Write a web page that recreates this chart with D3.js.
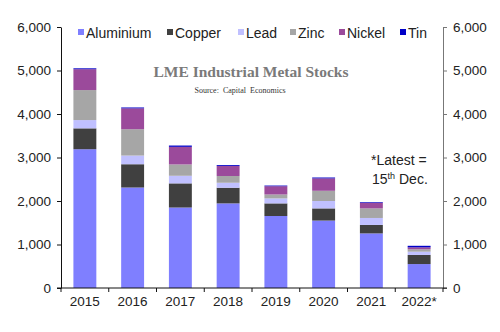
<!DOCTYPE html>
<html>
<head>
<meta charset="utf-8">
<script src="https://cdn.jsdelivr.net/npm/d3@7"></script>
<style>
  body { margin: 0; background: #fff; }
  svg { display: block; font-family: "Liberation Sans", Arial, sans-serif; }
</style>
</head>
<body>
<div id="chart"></div>
<script>
// LME stocks by metal, thousand tonnes (stacked)
const years = ["2015", "2016", "2017", "2018", "2019", "2020", "2021", "2022*"]
const metals = ["Aluminium", "Copper", "Lead", "Zinc", "Nickel", "Tin"]
const aluminium = [3190, 2310, 1850, 1945, 1655, 1550, 1255, 550]
const copper    = [480, 535, 555, 360, 290, 280, 195, 210]
const lead      = [190, 200, 175, 115, 115, 170, 160, 75]
const zinc      = [690, 605, 260, 155, 90, 235, 220, 55]
const nickel    = [480, 480, 405, 230, 190, 285, 130, 45]
const tin       = [20, 20, 30, 20, 15, 20, 15, 35]
const yTicks = [0, 1000, 2000, 3000, 4000, 5000, 6000]
const colours = ["#7f7fff", "#404040", "#c0c0ff", "#a6a6a6", "#9b4a9b", "#0000c8"]

const W = 500, H = 332
const margin = {top: 27, right: 57, bottom: 44, left: 61}

const rows = years.map((y, i) => ({
    year: y,
    Aluminium: aluminium[i], Copper: copper[i], Lead: lead[i],
    Zinc: zinc[i], Nickel: nickel[i], Tin: tin[i]
}))
const stacked = d3.stack().keys(metals)(rows)

const svg = d3.select('#chart').append('svg')
    .attr('width', W)
    .attr('height', H)

const x = d3.scaleBand()
    .domain(years)
    .range([margin.left, W - margin.right])
    .paddingInner(0.52)
    .paddingOuter(0.26)

const y = d3.scaleLinear()
    .domain([0, 6000])
    .range([H - margin.bottom, margin.top])

const colour = d3.scaleOrdinal().domain(metals).range(colours)
const fmt = d3.format(",")

// bars
svg.append('g')
    .selectAll('g')
    .data(stacked)
    .join('g')
        .attr('fill', d => colour(d.key))
    .selectAll('rect')
    .data(d => d)
    .join('rect')
        .attr('x', d => x(d.data.year))
        .attr('width', x.bandwidth())
        .attr('y', d => y(d[1]))
        .attr('height', d => y(d[0]) - y(d[1]))

// left axis
const leftAxis = svg.append('g')
    .attr('transform', `translate(${margin.left},0)`)
    .call(d3.axisLeft(y).tickValues(yTicks).tickFormat(fmt).tickSize(4).tickSizeOuter(0).tickPadding(6))
leftAxis.select('.domain').attr('stroke', '#111')
leftAxis.selectAll('.tick line').attr('stroke', '#111')
leftAxis.selectAll('text').attr('font-size', 13.5).attr('fill', '#222')

// right axis
const rightAxis = svg.append('g')
    .attr('transform', `translate(${W - margin.right},0)`)
    .call(d3.axisRight(y).tickValues(yTicks).tickFormat(fmt).tickSize(4).tickSizeOuter(0).tickPadding(6))
rightAxis.select('.domain').attr('stroke', '#777')
rightAxis.selectAll('.tick line').attr('stroke', '#777')
rightAxis.selectAll('text').attr('font-size', 13.5).attr('fill', '#222')

// x axis: line, ticks between categories, labels
const base = y(0)
svg.append('line')
    .attr('x1', margin.left - 4).attr('x2', W - margin.right + 4)
    .attr('y1', base).attr('y2', base)
    .attr('stroke', '#111')
const step = x.step()
const bounds = d3.range(years.length + 1).map(i => margin.left + i * step)
svg.append('g').selectAll('line')
    .data(bounds)
    .join('line')
        .attr('x1', d => d).attr('x2', d => d)
        .attr('y1', base).attr('y2', base + 4)
        .attr('stroke', '#111')
svg.append('g').selectAll('text')
    .data(years)
    .join('text')
        .attr('x', d => x(d) + x.bandwidth() / 2)
        .attr('y', base + 18)
        .attr('text-anchor', 'middle')
        .attr('font-size', 13.5)
        .attr('fill', '#222')
        .text(d => d)

// legend
const legendX = [78, 167, 238, 290, 339, 400]
const legend = svg.append('g').selectAll('g')
    .data(metals)
    .join('g')
        .attr('transform', (d, i) => `translate(${legendX[i]},33)`)
legend.append('rect')
    .attr('x', 0).attr('y', -4)
    .attr('width', 6).attr('height', 6)
    .attr('fill', d => colour(d))
legend.append('text')
    .attr('x', 8).attr('y', 5)
    .attr('font-size', 14)
    .attr('fill', '#222')
    .text(d => d)

// title and source
svg.append('text')
    .attr('x', 251).attr('y', 77)
    .attr('text-anchor', 'middle')
    .attr('font-family', '"Liberation Serif", "Times New Roman", serif')
    .attr('font-weight', 'bold')
    .attr('font-size', 15.5)
    .attr('fill', '#7a7a7a')
    .text('LME Industrial Metal Stocks')
svg.append('text')
    .attr('x', 240).attr('y', 93)
    .attr('text-anchor', 'middle')
    .attr('font-family', '"Liberation Serif", "Times New Roman", serif')
    .attr('font-size', 8)
    .attr('fill', '#333')
    .attr('xml:space', 'preserve')
    .text('Source:  Capital  Economics')

// note on latest data
const note = svg.append('text')
    .attr('font-size', 14)
    .attr('fill', '#222')
note.append('tspan').attr('x', 371).attr('y', 165).text('*Latest =')
const l2 = note.append('tspan').attr('x', 372).attr('y', 184)
l2.append('tspan').text('15')
l2.append('tspan').attr('font-size', 9).attr('dy', -5).text('th')
l2.append('tspan').attr('dy', 5).text(' Dec.')
</script>
</body>
</html>
